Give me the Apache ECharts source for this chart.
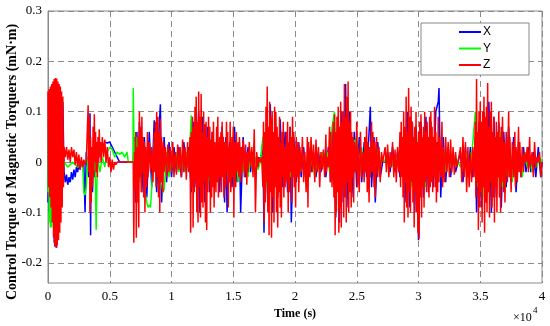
<!DOCTYPE html>
<html><head><meta charset="utf-8">
<script src="https://cdn.jsdelivr.net/npm/echarts@6/dist/echarts.min.js"></script>
<style>html,body{margin:0;padding:0;background:#fff}#c{width:550px;height:326px}</style>
</head><body><div id="c"></div>
<script>
// time in units of 1e4 s
const seriesNames = ['X', 'Y', 'Z'];
const xTicks = [0, 0.5, 1, 1.5, 2, 2.5, 3, 3.5, 4];
const yTicks = [-0.2, -0.1, 0, 0.1, 0.2, 0.3];

const dataX = [[0,-0.08],[0.005,0.14],[0.01,-0.1],[0.02,0.12],[0.03,-0.12],[0.04,0.13],[0.05,-0.16],[0.06,0.12],[0.07,-0.17],[0.08,0.14],[0.09,-0.12],[0.1,0.13],[0.11,-0.08],[0.12,0.12],[0.13,-0.02],
[0.14,-0.04],[0.15,-0.025],[0.16,-0.045],[0.17,-0.03],[0.18,-0.04],[0.19,-0.02],[0.2,-0.035],[0.21,-0.015],[0.22,-0.03],[0.23,-0.01],[0.24,-0.02],[0.25,-0.005],[0.26,-0.015],[0.27,0.0],[0.29,0.0],[0.3,-0.1],[0.31,0.02],[0.33,-0.03],[0.34,0.097],[0.345,-0.145],[0.35,0.03],[0.36,-0.06],[0.37,0.02],[0.38,-0.03],[0.39,0.02],[0.4,0.0],[0.42,0.02],[0.44,0.03],[0.46,0.04],[0.48,0.038],[0.5,0.04],[0.52,0.03],[0.54,0.02],[0.56,0.01],[0.58,0.0],[0.69,0.0],
[0.7,0.05],[0.71,-0.08],[0.72,0.06],[0.73,-0.05],[0.74,0.08],[0.76,-0.06],[0.78,0.05],[0.8,-0.07],[0.82,0.06],[0.84,-0.05],[0.86,0.083],[0.88,-0.06],[0.9,0.07],[0.91,0.115],[0.92,-0.08],[0.94,0.05],[0.96,-0.04],[0.98,0.04],[1.0,-0.03],[1.02,0.03],[1.04,-0.02],[1.06,0.03],[1.08,-0.03],[1.1,0.04],[1.12,-0.02],[1.14,0.03],[1.16,-0.06],[1.18,0.08],[1.2,-0.05],[1.22,0.1],[1.23,-0.1],[1.25,0.09],[1.27,-0.08],[1.29,0.07],[1.31,-0.06],[1.33,0.06],[1.35,-0.05],[1.37,0.05],[1.39,-0.06],[1.41,0.07],[1.43,-0.08],[1.44,0.05],[1.45,-0.1],[1.47,0.04],[1.49,-0.05],[1.51,0.07],[1.53,-0.04],[1.55,0.04],[1.56,-0.1],[1.58,0.05],[1.6,-0.03],[1.62,0.03],[1.64,-0.02],[1.66,0.02],[1.68,-0.03],[1.7,0.01],[1.72,0.0],[1.74,0.04],[1.749,-0.14],[1.76,0.05],[1.78,-0.08],[1.8,0.115],[1.82,-0.1],[1.84,0.09],[1.86,-0.07],[1.88,0.085],[1.9,-0.05],[1.92,0.06],[1.94,-0.06],[1.96,0.07],[1.97,-0.12],[1.99,0.05],[2.01,-0.04],[2.03,0.04],[2.05,-0.03],[2.07,0.03],[2.09,-0.04],[2.11,0.03],[2.13,-0.02],[2.15,0.02],[2.17,-0.03],[2.19,0.02],[2.21,-0.02],[2.23,0.02],[2.25,-0.03],[2.27,0.03],[2.29,-0.04],[2.31,0.07],[2.33,-0.11],[2.345,0.09],[2.36,-0.12],[2.38,0.1],[2.39,-0.08],[2.41,0.155],[2.42,-0.09],[2.44,0.1],[2.46,-0.07],[2.48,0.06],[2.5,-0.05],[2.52,0.05],[2.54,-0.04],[2.56,0.04],[2.58,-0.03],[2.6,0.06],[2.61,0.11],[2.62,-0.05],[2.64,0.05],[2.65,-0.08],[2.67,0.04],[2.69,-0.03],[2.71,0.0],[2.73,0.0],[2.75,0.02],[2.77,-0.02],[2.79,0.03],[2.81,-0.02],[2.83,0.02],[2.85,-0.03],[2.87,0.05],[2.89,-0.08],[2.91,0.1],[2.93,-0.09],[2.95,0.08],[2.97,-0.1],[2.98,0.07],[3.0,-0.155],[3.02,0.08],[3.04,-0.07],[3.06,0.09],[3.08,-0.06],[3.1,0.08],[3.12,-0.05],[3.14,0.1],[3.16,0.12],[3.166,0.147],[3.18,-0.07],[3.2,0.05],[3.22,-0.04],[3.24,0.03],[3.26,-0.03],[3.28,0.02],[3.3,-0.02],[3.32,0.0],[3.34,0.02],[3.36,-0.04],[3.38,0.03],[3.4,-0.03],[3.42,0.03],[3.44,-0.03],[3.46,0.05],[3.47,-0.1],[3.49,0.08],[3.51,-0.09],[3.53,0.1],[3.55,-0.08],[3.57,0.12],[3.59,-0.1],[3.61,0.09],[3.63,-0.07],[3.65,0.08],[3.67,-0.09],[3.69,0.06],[3.71,-0.05],[3.73,0.07],[3.75,-0.04],[3.77,0.05],[3.79,-0.06],[3.81,0.04],[3.83,-0.03],[3.85,0.03],[3.87,-0.02],[3.89,0.03],[3.91,-0.02],[3.93,0.02],[3.95,-0.03],[3.97,0.03],[3.99,-0.03],[4.0,0.0]];

const dataY = [[0,-0.06],[0.005,0.1],[0.01,-0.12],[0.015,0.08],[0.02,-0.13],[0.025,0.06],[0.03,-0.13],[0.035,0.05],[0.04,-0.1],[0.05,0.04],[0.06,-0.08],[0.07,0.03],[0.08,-0.05],[0.1,0.02],[0.12,-0.02],[0.13,0.0],[0.16,-0.01],[0.2,0.0],[0.24,-0.01],[0.28,0.0],[0.29,-0.06],[0.3,-0.065],[0.31,-0.05],[0.32,0.0],[0.34,0.02],[0.36,-0.03],[0.38,0.01],[0.39,-0.135],[0.4,0.01],[0.42,-0.02],[0.44,0.01],[0.46,-0.01],[0.48,0.02],[0.5,0.03],[0.52,0.025],[0.54,0.01],[0.56,0.02],[0.58,0.015],[0.6,0.02],[0.62,0.01],[0.64,0.02],[0.65,0.0],[0.688,0.0],[0.69,0.147],[0.7,-0.02],[0.72,0.05],[0.74,-0.04],[0.76,0.04],[0.78,-0.05],[0.8,-0.08],[0.81,-0.09],[0.82,-0.085],[0.83,-0.09],[0.84,-0.05],[0.86,0.04],[0.88,-0.03],[0.9,0.05],[0.92,-0.04],[0.93,-0.06],[0.94,-0.055],[0.96,0.02],[0.98,-0.03],[1.0,0.02],[1.02,-0.02],[1.04,0.02],[1.06,-0.02],[1.08,0.01],[1.1,-0.02],[1.12,0.02],[1.14,-0.01],[1.16,0.093],[1.18,-0.06],[1.2,0.07],[1.22,-0.05],[1.24,0.06],[1.26,-0.04],[1.28,0.05],[1.3,-0.04],[1.32,0.04],[1.34,-0.03],[1.36,0.04],[1.38,-0.03],[1.4,0.03],[1.42,-0.03],[1.44,0.04],[1.46,-0.03],[1.48,0.03],[1.5,-0.02],[1.52,0.03],[1.54,-0.04],[1.56,0.02],[1.58,-0.02],[1.6,0.02],[1.62,-0.03],[1.64,0.01],[1.66,-0.02],[1.68,0.01],[1.7,-0.015],[1.72,0.0],[1.74,0.05],[1.76,-0.06],[1.78,0.07],[1.8,-0.05],[1.82,0.06],[1.84,-0.04],[1.86,0.05],[1.88,-0.05],[1.9,0.04],[1.92,-0.03],[1.94,0.03],[1.96,-0.03],[1.98,0.02],[2.0,-0.04],[2.02,0.02],[2.04,-0.02],[2.06,0.02],[2.08,-0.03],[2.1,0.01],[2.12,-0.02],[2.14,0.02],[2.16,-0.03],[2.18,0.01],[2.2,-0.02],[2.22,0.02],[2.24,-0.01],[2.26,0.02],[2.28,-0.02],[2.3,0.07],[2.32,0.1],[2.34,-0.06],[2.36,0.07],[2.38,-0.05],[2.4,0.06],[2.42,-0.04],[2.44,0.05],[2.46,-0.03],[2.48,0.04],[2.5,0.05],[2.52,-0.03],[2.54,0.03],[2.56,-0.02],[2.58,0.03],[2.6,-0.03],[2.62,0.04],[2.64,-0.02],[2.66,0.03],[2.68,-0.02],[2.7,0.01],[2.72,0.0],[2.74,0.01],[2.78,-0.01],[2.82,0.01],[2.86,-0.02],[2.88,0.05],[2.9,-0.04],[2.92,0.06],[2.94,-0.05],[2.96,0.04],[2.98,-0.06],[3.0,0.05],[3.02,-0.04],[3.04,0.03],[3.06,-0.05],[3.08,0.04],[3.1,-0.03],[3.12,0.04],[3.14,-0.04],[3.16,0.03],[3.18,-0.02],[3.2,0.03],[3.22,-0.02],[3.24,0.02],[3.26,-0.01],[3.3,0.01],[3.34,-0.01],[3.38,0.02],[3.42,-0.02],[3.46,0.1],[3.48,-0.05],[3.5,0.06],[3.52,-0.07],[3.54,0.07],[3.56,-0.05],[3.58,0.06],[3.6,-0.06],[3.62,0.05],[3.64,-0.04],[3.66,0.06],[3.68,-0.05],[3.7,0.04],[3.72,-0.03],[3.74,0.03],[3.76,-0.04],[3.78,0.03],[3.8,-0.02],[3.82,0.02],[3.84,-0.03],[3.86,0.02],[3.88,-0.01],[3.9,0.01],[3.92,-0.02],[3.94,0.01],[3.96,-0.01],[3.98,0.01],[4.0,0.0]];

const dataZ = [[0,0.14],[0.005,-0.05],[0.01,0.145],[0.015,-0.07],[0.02,0.15],[0.025,-0.09],[0.03,0.155],[0.035,-0.12],[0.04,0.16],[0.045,-0.15],[0.05,0.165],[0.055,-0.168],[0.06,0.167],[0.065,-0.17],[0.07,0.166],[0.075,-0.165],[0.08,0.16],[0.085,-0.155],[0.09,0.155],[0.095,-0.14],[0.1,0.15],[0.105,-0.12],[0.11,0.14],[0.115,-0.09],[0.12,0.13],[0.125,-0.05],[0.13,0.03],
[0.14,0.01],[0.15,0.03],[0.16,0.005],[0.17,0.025],[0.18,0.0],[0.19,0.03],[0.2,0.01],[0.21,0.025],[0.22,-0.005],[0.23,0.02],[0.24,-0.01],[0.25,0.015],[0.26,-0.015],[0.27,0.01],[0.28,-0.01],[0.29,0.005],[0.3,-0.005],[0.31,0.0],
[0.32,0.0],[0.325,0.113],[0.33,-0.02],[0.335,0.09],[0.34,-0.1],[0.345,0.05],[0.35,-0.08],[0.355,0.03],[0.36,-0.05],[0.365,0.07],[0.37,-0.03],[0.375,0.095],[0.38,0.0],[0.385,0.06],[0.39,-0.02],[0.395,0.04],[0.4,-0.03],[0.405,0.05],[0.41,0.0],[0.415,0.065],[0.42,0.01],[0.425,0.04],[0.43,0.0],[0.44,0.05],[0.45,0.01],[0.46,0.045],[0.47,0.0],[0.48,0.03],[0.49,-0.01],[0.5,0.01],[0.51,-0.02],[0.52,0.005],[0.53,-0.015],[0.54,0.0],[0.55,-0.005],[0.56,0.0],[0.69,0.0],
[0.695,-0.16],[0.7,0.02],[0.705,-0.05],[0.71,0.06],[0.715,-0.15],[0.72,0.03],[0.725,-0.08],[0.73,0.05],[0.735,-0.13],[0.74,0.1],[0.745,-0.03],[0.75,0.07],[0.755,-0.06],[0.76,0.09],[0.765,-0.02],[0.77,0.05],[0.775,-0.07],[0.78,0.04],[0.785,-0.1],[0.79,0.03],[0.8,-0.05],[0.805,0.06],[0.81,-0.03],[0.82,0.04],[0.83,-0.02],[0.84,0.03],[0.85,-0.04],[0.86,0.06],[0.865,-0.02],[0.87,0.08],[0.875,-0.05],[0.88,0.1],[0.885,-0.03],[0.89,0.09],[0.895,-0.07],[0.9,0.06],[0.905,-0.1],[0.91,0.085],[0.915,-0.04],[0.92,0.05],[0.93,-0.06],[0.935,0.04],[0.94,-0.02],[0.95,0.03],[0.96,-0.03],[0.97,0.035],[0.98,-0.02],
[0.99,0.03],[1.0,-0.02],[1.01,0.04],[1.02,-0.03],[1.03,0.02],[1.04,-0.025],[1.05,0.035],[1.06,-0.015],[1.07,0.03],[1.08,-0.03],[1.09,0.045],[1.1,-0.02],[1.11,0.03],[1.12,-0.035],[1.13,0.04],[1.14,-0.02],
[1.15,0.05],[1.155,-0.14],[1.16,0.06],[1.165,-0.05],[1.17,0.09],[1.175,-0.13],[1.18,0.07],[1.185,-0.06],[1.19,0.11],[1.195,-0.04],[1.2,0.13],[1.205,-0.1],[1.21,0.08],[1.215,-0.12],[1.22,0.14],[1.225,-0.05],[1.23,0.09],[1.235,-0.11],[1.24,0.135],[1.245,-0.08],[1.25,0.06],[1.255,-0.09],[1.26,0.1],[1.265,-0.04],[1.27,0.075],[1.275,-0.12],[1.28,0.08],[1.285,-0.135],[1.29,0.05],[1.295,-0.06],[1.3,0.09],[1.305,-0.03],[1.31,0.07],[1.315,-0.1],[1.32,0.045],[1.325,-0.07],[1.33,0.06],[1.335,-0.05],[1.34,0.08],[1.345,-0.09],[1.35,0.04],[1.36,-0.06],[1.365,0.07],[1.37,-0.04],[1.375,0.09],[1.38,-0.07],[1.39,0.05],[1.395,-0.03],
[1.4,0.06],[1.405,-0.06],[1.41,0.08],[1.415,-0.03],[1.42,0.05],[1.425,-0.07],[1.43,0.04],[1.44,-0.05],[1.445,0.08],[1.45,-0.02],[1.455,0.06],[1.46,-0.09],[1.465,0.03],[1.47,-0.04],[1.475,0.08],[1.48,-0.06],[1.49,0.05],[1.495,-0.03],[1.5,0.07],[1.505,-0.11],[1.51,0.04],[1.52,-0.05],[1.525,0.06],[1.53,-0.02],[1.54,0.04],[1.545,-0.03],[1.55,0.05],[1.56,-0.04],[1.565,0.03],[1.57,-0.02],[1.58,0.045],[1.59,-0.03],[1.6,0.035],[1.61,-0.045],[1.615,0.02],[1.62,-0.02],[1.63,0.04],[1.64,-0.01],[1.65,0.03],[1.66,-0.03],[1.67,0.065],[1.675,-0.02],[1.68,-0.1],[1.69,0.02],[1.7,-0.01],[1.71,0.01],[1.72,0.0],
[1.73,0.01],[1.74,-0.05],[1.745,0.08],[1.75,-0.12],[1.755,0.06],[1.76,-0.08],[1.765,0.11],[1.77,-0.04],[1.775,0.15],[1.78,-0.1],[1.785,0.07],[1.79,-0.145],[1.795,0.12],[1.8,-0.06],[1.805,0.09],[1.81,-0.15],[1.815,0.1],[1.82,-0.07],[1.825,0.06],[1.83,-0.12],[1.835,0.11],[1.84,-0.05],[1.845,0.1],[1.85,-0.1],[1.855,0.07],[1.86,-0.13],[1.865,0.05],[1.87,-0.06],[1.875,0.09],[1.88,-0.09],[1.885,0.04],[1.89,-0.11],[1.895,0.06],[1.9,-0.03],[1.905,0.08],[1.91,-0.07],[1.915,0.03],[1.92,-0.05],
[1.93,0.06],[1.935,-0.04],[1.94,0.08],[1.945,-0.1],[1.95,0.04],[1.955,-0.06],[1.96,0.07],[1.965,-0.02],[1.97,0.05],[1.975,-0.08],[1.98,0.09],[1.985,-0.03],[1.99,0.06],[1.995,-0.05],[2.0,0.03],[2.005,-0.09],[2.01,0.05],[2.02,-0.03],[2.025,0.04],[2.03,-0.06],[2.04,0.03],[2.05,-0.02],[2.06,0.05],[2.07,-0.04],[2.08,0.02],
[2.09,-0.06],[2.1,0.05],[2.105,-0.09],[2.11,0.04],[2.12,-0.03],[2.13,0.05],[2.14,-0.02],[2.15,0.035],[2.16,-0.04],[2.17,0.045],[2.18,-0.02],[2.19,0.03],[2.2,-0.05],[2.21,0.02],[2.22,-0.015],[2.23,0.025],[2.24,-0.03],[2.25,0.055],[2.255,-0.02],[2.26,0.01],[2.27,-0.01],[2.28,0.07],[2.285,-0.04],[2.29,0.06],[2.3,-0.05],
[2.31,0.08],[2.315,-0.07],[2.32,0.095],[2.325,-0.145],[2.33,0.06],[2.335,-0.1],[2.34,0.09],[2.345,-0.06],[2.35,0.11],[2.355,-0.14],[2.36,0.07],[2.365,-0.09],[2.37,0.12],[2.375,-0.13],[2.38,0.08],[2.385,-0.05],[2.39,0.1],[2.395,-0.11],[2.4,0.155],[2.405,-0.07],[2.41,0.09],[2.415,-0.12],[2.42,0.13],[2.425,-0.04],[2.43,0.16],[2.435,-0.1],[2.44,0.08],[2.445,-0.06],[2.45,0.1],[2.455,-0.09],[2.46,0.06],[2.465,-0.03],[2.47,0.05],[2.475,-0.08],[2.48,0.04],[2.49,-0.02],[2.5,0.08],[2.505,-0.05],[2.51,0.03],[2.52,-0.06],[2.53,0.06],[2.54,-0.03],[2.55,0.02],
[2.56,-0.04],[2.565,0.05],[2.57,-0.02],[2.58,0.07],[2.585,-0.06],[2.59,0.04],[2.6,-0.08],[2.605,0.03],[2.61,-0.03],[2.62,0.08],[2.625,-0.02],[2.63,0.06],[2.64,-0.05],[2.645,0.04],[2.65,-0.07],[2.66,0.05],[2.67,-0.03],[2.68,0.03],[2.69,-0.04],[2.7,0.02],[2.71,0.0],[2.72,0.0],[2.73,0.03],[2.74,-0.02],[2.75,0.035],[2.76,-0.03],[2.77,0.02],[2.78,-0.01],[2.79,0.04],[2.8,-0.03],[2.81,0.025],[2.82,-0.04],[2.83,0.03],[2.84,-0.02],
[2.85,0.06],[2.855,-0.05],[2.86,0.08],[2.865,-0.03],[2.87,0.05],[2.875,-0.07],[2.88,0.1],[2.885,-0.12],[2.89,0.07],[2.895,-0.04],[2.9,0.13],[2.905,-0.09],[2.91,0.06],[2.915,-0.11],[2.92,0.147],[2.925,-0.06],[2.93,0.09],[2.935,-0.1],[2.94,0.11],[2.945,-0.04],[2.95,0.08],[2.955,-0.08],[2.96,0.05],[2.965,-0.13],[2.97,0.07],[2.975,-0.06],[2.98,0.1],[2.985,-0.1],[2.99,0.04],[2.995,-0.14],[3.0,0.06],[3.005,-0.152],[3.01,0.08],[3.015,-0.07],[3.02,0.095],[3.025,-0.11],[3.03,0.05],[3.035,-0.05],[3.04,0.07],[3.045,-0.09],[3.05,0.1],[3.055,-0.04],[3.06,0.06],[3.065,-0.06],[3.07,0.08],[3.075,-0.03],[3.08,0.05],[3.085,-0.07],[3.09,0.09],[3.095,-0.05],[3.1,0.1],[3.105,-0.04],[3.11,0.07],[3.115,-0.06],[3.12,0.05],[3.125,-0.03],[3.13,0.11],[3.135,-0.05],[3.14,0.06],[3.145,-0.08],[3.15,0.04],[3.155,-0.06],[3.16,0.09],[3.165,-0.04],[3.17,0.05],[3.18,-0.03],[3.19,0.08],[3.195,-0.05],[3.2,0.03],
[3.21,-0.04],[3.22,0.05],[3.23,-0.02],[3.24,0.04],[3.25,-0.03],[3.26,0.045],[3.27,-0.02],[3.28,0.03],[3.29,-0.025],[3.3,0.02],[3.31,-0.01],[3.32,0.0],[3.33,0.0],[3.34,0.03],[3.35,-0.04],[3.36,0.05],[3.37,-0.03],[3.38,0.04],[3.39,-0.06],[3.4,0.03],[3.41,-0.05],[3.42,0.02],[3.43,-0.04],[3.44,0.03],[3.45,-0.03],
[3.46,0.08],[3.465,-0.07],[3.47,0.165],[3.475,-0.04],[3.48,0.06],[3.485,-0.135],[3.49,0.1],[3.495,-0.09],[3.5,0.12],[3.505,-0.06],[3.51,0.08],[3.515,-0.12],[3.52,0.1],[3.525,-0.05],[3.53,0.13],[3.535,-0.14],[3.54,0.09],[3.545,-0.08],[3.55,0.11],[3.555,-0.1],[3.56,0.157],[3.565,-0.06],[3.57,0.07],[3.575,-0.11],[3.58,0.1],[3.585,-0.04],[3.59,0.12],[3.595,-0.09],[3.6,0.06],[3.605,-0.07],[3.61,0.09],[3.615,-0.12],[3.62,0.05],[3.625,-0.05],[3.63,0.08],[3.635,-0.1],[3.64,0.06],[3.645,-0.03],[3.65,0.1],[3.655,-0.07],[3.66,0.05],[3.665,-0.1],[3.67,0.07],[3.675,-0.04],[3.68,0.09],[3.69,-0.06],[3.695,0.04],[3.7,-0.08],[3.71,0.06],[3.72,-0.04],[3.73,0.1],[3.735,-0.03],[3.74,0.05],
[3.75,-0.06],[3.76,0.04],[3.77,-0.03],[3.78,0.06],[3.785,-0.05],[3.79,0.03],[3.8,-0.04],[3.81,0.07],[3.815,-0.02],[3.82,0.04],[3.83,-0.03],[3.84,0.03],[3.85,-0.02],[3.86,0.02],[3.87,0.0],[3.88,0.03],[3.89,-0.02],[3.9,0.05],[3.905,-0.01],[3.91,0.0],[3.92,0.02],[3.93,-0.03],[3.94,0.04],[3.95,-0.01],[3.96,0.01],[3.97,0.0],[3.98,0.02],[3.99,-0.03],[4.0,0.0]];

const colors = ['#0000ff', '#00ff00', '#ff0000'];
const allData = [dataX, dataY, dataZ];

const serif = 'Liberation Serif';
const chart = echarts.init(document.getElementById('c'), null, {renderer: 'canvas'});
const gridLine = {show: true, lineStyle: {color: '#8a8a8a', type: [6, 4], width: 1}};
chart.setOption({
  animation: false,
  backgroundColor: '#fff',
  grid: {left: 48, right: 8, top: 11, bottom: 43, show: true, borderColor: '#8a8a8a', borderWidth: 1},
  legend: {
    data: seriesNames, orient: 'vertical', left: 421, top: 23,
    padding: [2, 38, 3, 38], itemGap: 2.5, itemWidth: 22, itemHeight: 2, icon: 'rect',
    backgroundColor: '#fff', borderColor: '#888', borderWidth: 1,
    textStyle: {fontFamily: 'Liberation Sans', fontSize: 12, color: '#000', padding: [0, 0, 0, -3], lineHeight: 14}
  },
  xAxis: {
    type: 'value', min: xTicks[0], max: xTicks[xTicks.length - 1], interval: 0.5,
    name: 'Time (s)', nameLocation: 'middle', nameGap: 24,
    nameTextStyle: {fontFamily: serif, fontWeight: 'bold', fontSize: 12, color: '#000'},
    axisLine: {lineStyle: {color: '#8a8a8a'}},
    axisTick: {inside: true, length: 3, lineStyle: {color: '#8a8a8a'}},
    axisLabel: {fontFamily: serif, fontSize: 13, color: '#000', margin: 7},
    splitLine: gridLine
  },
  yAxis: {
    type: 'value', min: -0.24, max: 0.3,
    axisLine: {show: true, lineStyle: {color: '#8a8a8a'}},
    axisTick: {show: true, inside: true, length: 3, customValues: yTicks, lineStyle: {color: '#8a8a8a'}},
    axisLabel: {fontFamily: serif, fontSize: 13, color: '#000', margin: 6, customValues: yTicks},
    splitLine: gridLine
  },
  graphic: [
    {type: 'text', x: 12, y: 162, rotation: Math.PI / 2,
     style: {text: 'Control Torque of Magnetic Torquers (mN·m)', font: 'bold 14px "Liberation Serif"', fill: '#000', align: 'center', verticalAlign: 'middle'}},
    {type: 'text', x: 513, y: 318, style: {text: '×10', font: '12px "Liberation Serif"', fill: '#000', align: 'left', verticalAlign: 'middle'}},
    {type: 'text', x: 533, y: 311, style: {text: '4', font: '9px "Liberation Serif"', fill: '#000', align: 'left', verticalAlign: 'middle'}}
  ],
  series: seriesNames.map((n, i) => ({
    name: n, type: 'line', data: allData[i], showSymbol: false, symbol: 'none',
    lineStyle: {color: colors[i], width: 1.5}, itemStyle: {color: colors[i]}, z: 2 + i
  }))
});
</script></body></html>
